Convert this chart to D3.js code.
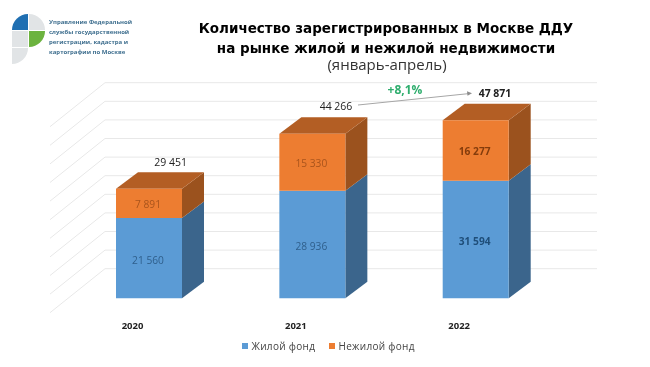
<!DOCTYPE html>
<html>
<head>
<meta charset="utf-8">
<script src="https://d3js.org/d3.v7.min.js"></script>
<style>
  html, body { margin: 0; padding: 0; background: #fff; }
  svg { display: block; filter: blur(0.35px); }
  text { font-family: "Open Sans", "Noto Sans", sans-serif; }
</style>
</head>
<body>
<div id="chart"></div>
<script>
// data
var years = ["2020", "2021", "2022"];
var living = [21560, 28936, 31594];
var nonLiving = [7891, 15330, 16277];
var totals = ["29 451", "44 266", "47 871"];
var livingLabels = ["21 560", "28 936", "31 594"];
var nonLivingLabels = ["7 891", "15 330", "16 277"];
var gridTicks = [0, 5000, 10000, 15000, 20000, 25000, 30000, 35000, 40000, 45000, 50000];
var seriesNames = ["Жилой фонд", "Нежилой фонд"];
var orgLines = ["Управление Федеральной", "службы государственной", "регистрации, кадастра и", "картографии по Москве"];

var W = 650, H = 367;
var svg = d3.select("#chart").append("svg").attr("width", W).attr("height", H);

// scales
var y = d3.scaleLinear().domain([0, 50000]).range([298.3, 112.3]);
var x = d3.scalePoint().domain(years).range([149, 475.7]);
var barW = 66;
var depthX = 22, depthY = 16.5; // bar depth
var wallX = 55, wallY = 29.6, sideX = 55, sideY = 44; // back wall and left side wall

function poly(pts, fill) {
  svg.append("polygon").attr("points", pts.map(function(p) { return p.join(","); }).join(" ")).attr("fill", fill);
}

// grid on the walls
var gridCol = "#e8e8e8";
gridTicks.forEach(function(t) {
  var yb = y(t) - wallY;
  svg.append("line").attr("x1", 105).attr("x2", 597).attr("y1", yb).attr("y2", yb)
    .attr("stroke", gridCol).attr("stroke-width", 1);
  svg.append("line").attr("x1", 105 - sideX).attr("x2", 105).attr("y1", yb + sideY).attr("y2", yb)
    .attr("stroke", gridCol).attr("stroke-width", 1);
});

// bars
years.forEach(function(yr, i) {
  var x0 = x(yr) - barW / 2, x1 = x0 + barW;
  var y0 = y(0), ys = y(living[i]), yt = y(living[i] + nonLiving[i]);
  // blue side and front
  poly([[x1, y0], [x1 + depthX, y0 - depthY], [x1 + depthX, ys - depthY], [x1, ys]], "#3b658c");
  poly([[x0, y0], [x1, y0], [x1, ys], [x0, ys]], "#5b9bd5");
  // orange side, top and front
  poly([[x1, ys], [x1 + depthX, ys - depthY], [x1 + depthX, yt - depthY], [x1, yt]], "#9b521e");
  poly([[x0, yt], [x1, yt], [x1 + depthX, yt - depthY], [x0 + depthX, yt - depthY]], "#b35e24");
  poly([[x0, ys], [x1, ys], [x1, yt], [x0, yt]], "#ed7d31");

  var last = i === 2;
  svg.append("text").attr("x", x(yr) - 1).attr("y", (y0 + ys) / 2 + 5.5).attr("text-anchor", "middle")
    .attr("font-size", 10.2).attr("font-weight", last ? 700 : 400)
    .attr("fill", last ? "#1f4e79" : "#2f5f8c").text(livingLabels[i]);
  svg.append("text").attr("x", x(yr) - 1).attr("y", (ys + yt) / 2 + 5).attr("text-anchor", "middle")
    .attr("font-size", 10.2).attr("font-weight", last ? 700 : 400)
    .attr("fill", last ? "#843c0c" : "#a9541c").text(nonLivingLabels[i]);
  svg.append("text").attr("x", x(yr) - 16.5).attr("y", 328.5).attr("text-anchor", "middle")
    .attr("font-size", 9.5).attr("font-weight", 700).attr("fill", "#222").text(yr);
});

// totals
var totalPos = [[170.7, 165.5], [336, 110], [495, 97]];
totals.forEach(function(t, i) {
  svg.append("text").attr("x", totalPos[i][0]).attr("y", totalPos[i][1]).attr("text-anchor", "middle")
    .attr("font-size", 10.5).attr("font-weight", i === 2 ? 700 : 400).attr("fill", "#222").text(t);
});

// growth arrow
svg.append("line").attr("x1", 358).attr("y1", 105).attr("x2", 468).attr("y2", 93.7)
  .attr("stroke", "#a6a6a6").attr("stroke-width", 1);
poly([[472, 93.2], [467, 91.2], [467.5, 95.7]], "#8c8c8c");
svg.append("text").attr("x", 405).attr("y", 94).attr("text-anchor", "middle")
  .attr("font-size", 12).attr("font-weight", 700).attr("fill", "#2fae6e").text("+8,1%");

// legend
svg.append("rect").attr("x", 242).attr("y", 343).attr("width", 6).attr("height", 6).attr("fill", "#5b9bd5");
svg.append("text").attr("x", 251.5).attr("y", 349.5).attr("font-size", 10).attr("letter-spacing", 0.3).attr("fill", "#444").text(seriesNames[0]);
svg.append("rect").attr("x", 329).attr("y", 343).attr("width", 6).attr("height", 6).attr("fill", "#ed7d31");
svg.append("text").attr("x", 338.5).attr("y", 349.5).attr("font-size", 10).attr("letter-spacing", 0.3).attr("fill", "#444").text(seriesNames[1]);

// title
svg.append("text").attr("x", 386).attr("y", 33).attr("text-anchor", "middle")
  .attr("font-size", 13.5).attr("font-weight", 700).attr("fill", "#000")
  .style("font-family", "'DejaVu Sans'")
  .text("Количество зарегистрированных в Москве ДДУ");
svg.append("text").attr("x", 386).attr("y", 52.5).attr("text-anchor", "middle")
  .attr("font-size", 13.5).attr("font-weight", 700).attr("fill", "#000")
  .style("font-family", "'DejaVu Sans'")
  .text("на рынке жилой и нежилой недвижимости");
svg.append("text").attr("x", 387).attr("y", 70).attr("text-anchor", "middle")
  .attr("font-size", 15).attr("fill", "#333").text("(январь-апрель)");

// org text
orgLines.forEach(function(t, i) {
  svg.append("text").attr("x", 49).attr("y", 23.5 + i * 10).attr("font-size", 6).attr("font-weight", 700)
    .attr("fill", "#3f6f8f").text(t);
});

// logo: quarter circles
var logo = svg.append("g").attr("transform", "translate(12,14)");
logo.append("path").attr("d", "M0,16 A16,16 0 0 1 16,0 L16,16 Z").attr("fill", "#1f6fb2");
logo.append("path").attr("d", "M17,0 A16,16 0 0 1 33,16 L17,16 Z").attr("fill", "#e1e4e6");
logo.append("rect").attr("x", 0).attr("y", 17).attr("width", 16).attr("height", 16).attr("fill", "#e1e4e6");
logo.append("path").attr("d", "M17,17 L33,17 A16,16 0 0 1 17,33 Z").attr("fill", "#6cb33f");
logo.append("path").attr("d", "M0,34 L16,34 A16,16 0 0 1 0,50 Z").attr("fill", "#e1e4e6");
</script>
</body>
</html>
